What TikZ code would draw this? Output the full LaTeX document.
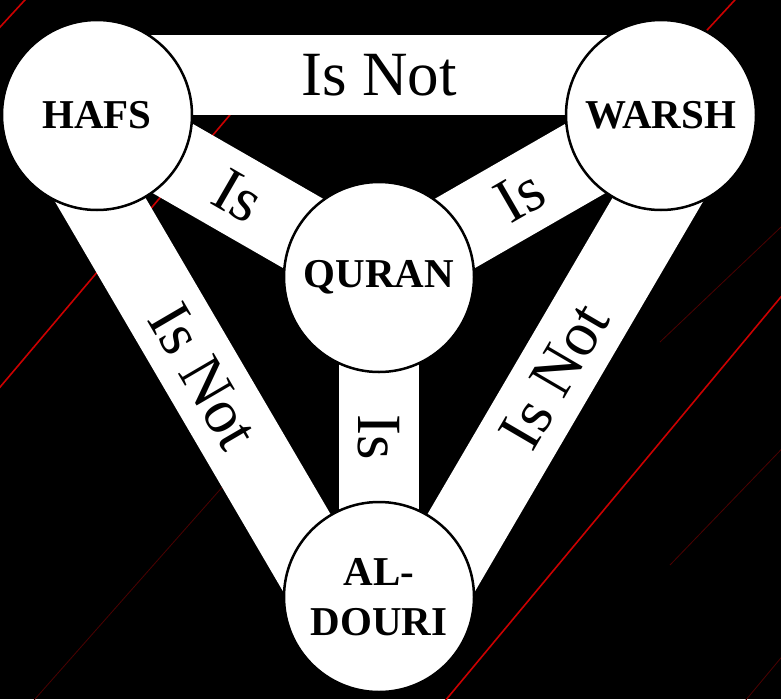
\documentclass[tikz,border=0pt]{standalone}
\usepackage{fontspec}
\setmainfont{Liberation Serif}
\usetikzlibrary{calc,backgrounds}
\tikzstyle{reader} = [circle, draw=black, fill=white, line width=2.5pt, minimum size=190pt, inner sep=0pt, align=center, font=\fontsize{41}{50}\selectfont\bfseries]
\tikzstyle{band} = [draw=white, line width=80pt]
\tikzstyle{rel} = [text=black, inner sep=0pt, font=\fontsize{63}{70}\selectfont]
\tikzstyle{streak} = [draw=red!80!black, line width=1.6pt]
\tikzstyle{glow} = [draw=red!30!black, line width=0.8pt]

\begin{document}
\begin{tikzpicture}[x=1pt, y=1pt]
	\useasboundingbox (0,0) rectangle (781,-699);
	\node [reader] (hafs) at (97,-115) {HAFS};
	\node [reader] (warsh) at (661,-115) {WARSH};
	\node [reader] (quran) at (379,-277) {QURAN};
	\node [reader] (aldouri) at (379,-597) {AL-\\DOURI};
	
	\begin{scope}[on background layer]
	\clip (0,0) rectangle (781,-699);
	\fill [black] (0,0) rectangle (781,-699);
	\draw [streak] (-10,-399) -- (240,-103);
	\draw [streak] (430,-719) -- (800,-274);
	\draw [streak] (-10,-38) -- (35,11);
	\draw [streak] (650,-92) -- (745,11);
	\draw [glow] (20,-716) -- (225,-484);
	\draw [glow] (660,-342) -- (800,-209);
	\draw [glow] (670,-565) -- (800,-430);
	\draw [glow] (730,-719) -- (800,-635);
	
	\draw [band] ($(hafs.center)!40pt!90:(warsh.center)$) -- ($(warsh.center)!40pt!-90:(hafs.center)$) node [rel, midway] {Is Not};
	\draw [band] ($(hafs.center)!40pt!-90:(aldouri.center)$) -- ($(aldouri.center)!40pt!90:(hafs.center)$) node [rel, midway, rotate=-59.7] {Is Not};
	\draw [band] ($(warsh.center)!40pt!90:(aldouri.center)$) -- ($(aldouri.center)!40pt!-90:(warsh.center)$) node [rel, midway, rotate=59.7] {Is Not};
	\draw [band] (hafs.center) -- (quran.center) node [rel, midway, rotate=-30] {Is};
	\draw [band] (quran.center) -- (warsh.center) node [rel, midway, rotate=30] {Is};
	\draw [band] (quran.center) -- (aldouri.center) node [rel, midway, rotate=-90] {Is};
	\end{scope}
\end{tikzpicture}
\end{document}
